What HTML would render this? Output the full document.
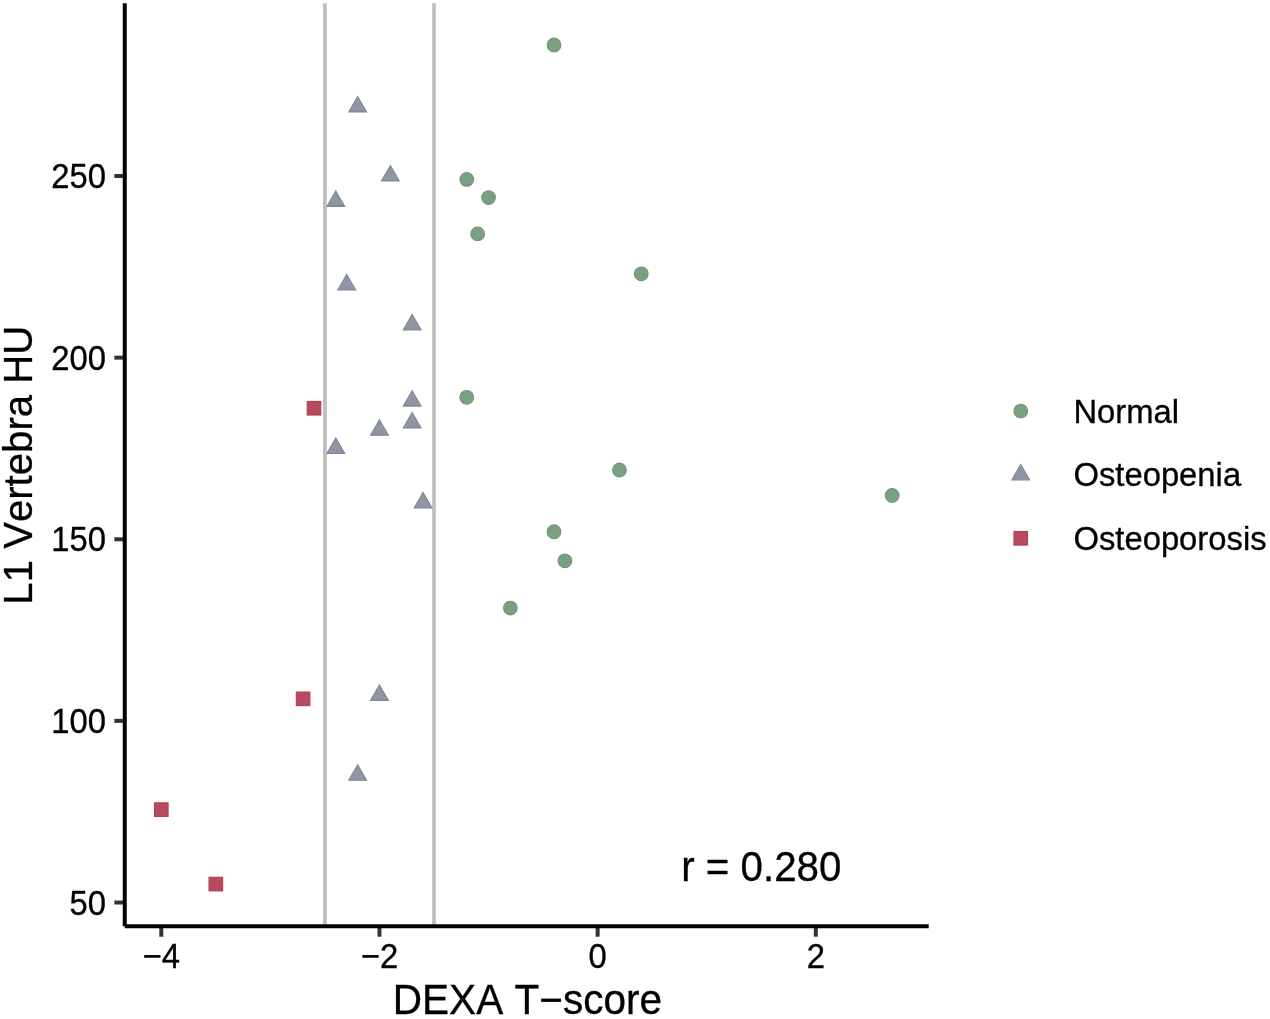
<!DOCTYPE html>
<html lang="en"><head><meta charset="utf-8"><title>L1 Vertebra HU vs DEXA T-score</title>
<style>html,body{margin:0;padding:0;background:#fff}svg{display:block;will-change:transform}text{font-kerning:none}</style></head>
<body>
<svg width="1270" height="1019" viewBox="0 0 1270 1019" font-family="Liberation Sans, sans-serif">
<rect width="1270" height="1019" fill="#ffffff"/>
<line x1="324.92" y1="3.3" x2="324.92" y2="926.3" stroke="#bebebe" stroke-width="3.7"/>
<line x1="434.00" y1="3.3" x2="434.00" y2="926.3" stroke="#bebebe" stroke-width="3.7"/>
<circle cx="554.00" cy="45.00" r="6.85" fill="#7ba081" stroke="#6f9876" stroke-width="1.1"/>
<circle cx="466.73" cy="179.40" r="6.85" fill="#7ba081" stroke="#6f9876" stroke-width="1.1"/>
<circle cx="488.55" cy="197.57" r="6.85" fill="#7ba081" stroke="#6f9876" stroke-width="1.1"/>
<circle cx="477.64" cy="233.89" r="6.85" fill="#7ba081" stroke="#6f9876" stroke-width="1.1"/>
<circle cx="641.26" cy="273.85" r="6.85" fill="#7ba081" stroke="#6f9876" stroke-width="1.1"/>
<circle cx="466.73" cy="397.35" r="6.85" fill="#7ba081" stroke="#6f9876" stroke-width="1.1"/>
<circle cx="619.45" cy="470.00" r="6.85" fill="#7ba081" stroke="#6f9876" stroke-width="1.1"/>
<circle cx="892.16" cy="495.43" r="6.85" fill="#7ba081" stroke="#6f9876" stroke-width="1.1"/>
<circle cx="554.00" cy="531.75" r="6.85" fill="#7ba081" stroke="#6f9876" stroke-width="1.1"/>
<circle cx="564.90" cy="560.81" r="6.85" fill="#7ba081" stroke="#6f9876" stroke-width="1.1"/>
<circle cx="510.36" cy="608.03" r="6.85" fill="#7ba081" stroke="#6f9876" stroke-width="1.1"/>
<polygon points="357.64,96.48 366.54,111.89 348.75,111.89" fill="#8f95a2" stroke="#7f8697" stroke-width="1.1" stroke-linejoin="miter"/>
<polygon points="390.37,165.50 399.27,180.91 381.47,180.91" fill="#8f95a2" stroke="#7f8697" stroke-width="1.1" stroke-linejoin="miter"/>
<polygon points="335.83,190.93 344.73,206.34 326.93,206.34" fill="#8f95a2" stroke="#7f8697" stroke-width="1.1" stroke-linejoin="miter"/>
<polygon points="346.74,274.47 355.63,289.88 337.84,289.88" fill="#8f95a2" stroke="#7f8697" stroke-width="1.1" stroke-linejoin="miter"/>
<polygon points="412.19,314.43 421.08,329.84 403.29,329.84" fill="#8f95a2" stroke="#7f8697" stroke-width="1.1" stroke-linejoin="miter"/>
<polygon points="412.19,390.71 421.08,406.12 403.29,406.12" fill="#8f95a2" stroke="#7f8697" stroke-width="1.1" stroke-linejoin="miter"/>
<polygon points="412.19,412.50 421.08,427.91 403.29,427.91" fill="#8f95a2" stroke="#7f8697" stroke-width="1.1" stroke-linejoin="miter"/>
<polygon points="379.46,419.77 388.36,435.18 370.56,435.18" fill="#8f95a2" stroke="#7f8697" stroke-width="1.1" stroke-linejoin="miter"/>
<polygon points="335.83,437.93 344.73,453.34 326.93,453.34" fill="#8f95a2" stroke="#7f8697" stroke-width="1.1" stroke-linejoin="miter"/>
<polygon points="423.10,492.42 431.99,507.83 414.20,507.83" fill="#8f95a2" stroke="#7f8697" stroke-width="1.1" stroke-linejoin="miter"/>
<polygon points="379.46,684.94 388.36,700.35 370.56,700.35" fill="#8f95a2" stroke="#7f8697" stroke-width="1.1" stroke-linejoin="miter"/>
<polygon points="357.64,764.85 366.54,780.26 348.75,780.26" fill="#8f95a2" stroke="#7f8697" stroke-width="1.1" stroke-linejoin="miter"/>
<rect x="307.21" y="401.45" width="13.60" height="13.60" fill="#b74a5c" stroke="#b04154" stroke-width="1.1"/>
<rect x="296.30" y="692.04" width="13.60" height="13.60" fill="#b74a5c" stroke="#b04154" stroke-width="1.1"/>
<rect x="154.49" y="802.83" width="13.60" height="13.60" fill="#b74a5c" stroke="#b04154" stroke-width="1.1"/>
<rect x="209.04" y="877.30" width="13.60" height="13.60" fill="#b74a5c" stroke="#b04154" stroke-width="1.1"/>
<line x1="114.35" y1="902.51" x2="124.75" y2="902.51" stroke="#333333" stroke-width="4"/>
<text transform="translate(106.00,914.51) scale(1,1.06)" font-size="32.8" text-anchor="end" fill="#000" stroke="#000" stroke-width="0.3">50</text>
<line x1="114.35" y1="720.89" x2="124.75" y2="720.89" stroke="#333333" stroke-width="4"/>
<text transform="translate(106.00,732.89) scale(1,1.06)" font-size="32.8" text-anchor="end" fill="#000" stroke="#000" stroke-width="0.3">100</text>
<line x1="114.35" y1="539.26" x2="124.75" y2="539.26" stroke="#333333" stroke-width="4"/>
<text transform="translate(106.00,551.26) scale(1,1.06)" font-size="32.8" text-anchor="end" fill="#000" stroke="#000" stroke-width="0.3">150</text>
<line x1="114.35" y1="357.64" x2="124.75" y2="357.64" stroke="#333333" stroke-width="4"/>
<text transform="translate(106.00,369.64) scale(1,1.06)" font-size="32.8" text-anchor="end" fill="#000" stroke="#000" stroke-width="0.3">200</text>
<line x1="114.35" y1="176.02" x2="124.75" y2="176.02" stroke="#333333" stroke-width="4"/>
<text transform="translate(106.00,188.02) scale(1,1.06)" font-size="32.8" text-anchor="end" fill="#000" stroke="#000" stroke-width="0.3">250</text>
<line x1="161.29" y1="926.3" x2="161.29" y2="936.6999999999999" stroke="#333333" stroke-width="4"/>
<text transform="translate(161.29,967.80) scale(1,1.06)" font-size="32.8" text-anchor="middle" fill="#000" stroke="#000" stroke-width="0.3">−4</text>
<line x1="379.46" y1="926.3" x2="379.46" y2="936.6999999999999" stroke="#333333" stroke-width="4"/>
<text transform="translate(379.46,967.80) scale(1,1.06)" font-size="32.8" text-anchor="middle" fill="#000" stroke="#000" stroke-width="0.3">−2</text>
<line x1="597.63" y1="926.3" x2="597.63" y2="936.6999999999999" stroke="#333333" stroke-width="4"/>
<text transform="translate(597.63,967.80) scale(1,1.06)" font-size="32.8" text-anchor="middle" fill="#000" stroke="#000" stroke-width="0.3">0</text>
<line x1="815.80" y1="926.3" x2="815.80" y2="936.6999999999999" stroke="#333333" stroke-width="4"/>
<text transform="translate(815.80,967.80) scale(1,1.06)" font-size="32.8" text-anchor="middle" fill="#000" stroke="#000" stroke-width="0.3">2</text>
<line x1="124.75" y1="3.3" x2="124.75" y2="926.3" stroke="#000" stroke-width="4"/>
<line x1="124.75" y1="926.3" x2="928.7" y2="926.3" stroke="#000" stroke-width="4"/>
<text transform="translate(527.40,1014.40) scale(1,1.035)" font-size="40.55" text-anchor="middle" fill="#000" stroke="#000" stroke-width="0.3">DEXA T−score</text>
<text transform="translate(32.00,465.20) rotate(-90) scale(1,1.035)" font-size="40.15" text-anchor="middle" fill="#000" stroke="#000" stroke-width="0.3">L1 Vertebra HU</text>
<text transform="translate(761.30,880.60) scale(1,1.04)" font-size="40.3" text-anchor="middle" fill="#000" stroke="#000" stroke-width="0.3">r = 0.280</text>
<circle cx="1020.75" cy="411.10" r="6.85" fill="#7ba081" stroke="#6f9876" stroke-width="1.1"/>
<polygon points="1020.75,464.43 1029.65,479.84 1011.85,479.84" fill="#8f95a2" stroke="#7f8697" stroke-width="1.1" stroke-linejoin="miter"/>
<rect x="1013.95" y="531.50" width="13.60" height="13.60" fill="#b74a5c" stroke="#b04154" stroke-width="1.1"/>
<text transform="translate(1073.40,422.90) scale(1,1.025)" font-size="32.8" text-anchor="start" fill="#000" stroke="#000" stroke-width="0.3">Normal</text>
<text transform="translate(1073.40,486.40) scale(1,1.025)" font-size="32.8" text-anchor="start" fill="#000" stroke="#000" stroke-width="0.3">Osteopenia</text>
<text transform="translate(1073.40,549.90) scale(1,1.025)" font-size="32.8" text-anchor="start" fill="#000" stroke="#000" stroke-width="0.3">Osteoporosis</text>
</svg>
</body></html>
